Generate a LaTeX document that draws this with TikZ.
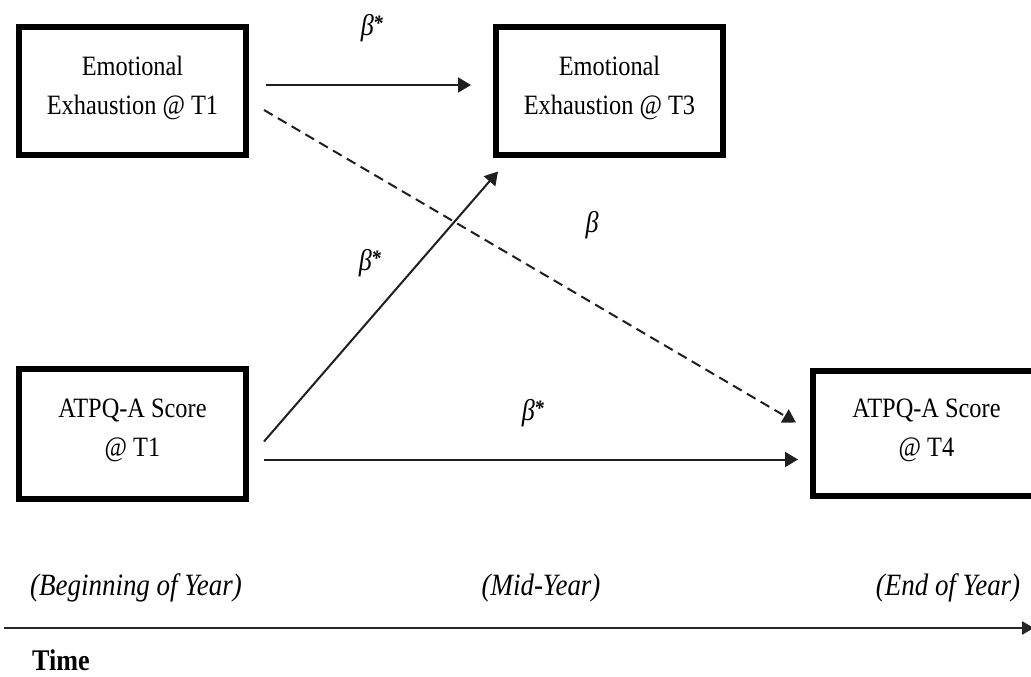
\documentclass[tikz,border=0pt]{standalone}
\usepackage{fontspec}
\newfontfamily\diagfont{Liberation Serif}[FakeStretch=0.87]
\usetikzlibrary{positioning,arrows.meta}
\newcommand{\starred}{β\kern-0.5pt\raisebox{5pt}{\bfseries\fontsize{22}{22}\selectfont *}}

\begin{document}
\begin{tikzpicture}[
    x=1pt, y=-1pt,
    node distance=208pt and 244pt,
    block/.style={draw, line width=6pt, minimum width=227pt, minimum height=127pt, align=center, inner sep=0pt,
        font=\diagfont\fontsize{28}{39}\selectfont},
    arrow/.style={-{Triangle[length=13pt,width=15pt]}, line width=2pt, draw=black!88},
    dasharrow/.style={arrow, dash pattern=on 10pt off 6pt},
    coef/.style={font=\diagfont\itshape\fontsize{30}{30}\selectfont},
    period/.style={font=\diagfont\itshape\fontsize{31}{31}\selectfont}
]
\useasboundingbox (0,0) rectangle (1031,677);

\node[block] (ee1) at (132.5,91) {Emotional\\Exhaustion @ T1\\[-28pt]};
\node[block, right=of ee1] (ee3) {Emotional\\Exhaustion @ T3\\[-28pt]};
\node[block, below=of ee1, minimum height=130pt] (at1) {ATPQ-A Score\\@ T1\\[-28pt]};
\node[block, right=561pt of at1, minimum height=125pt] (at4) {ATPQ-A Score\\@ T4\\[-28pt]};

\draw[arrow] ([xshift=17pt,yshift=6pt]ee1.east) -- ([xshift=-22pt,yshift=6pt]ee3.west);
\draw[dasharrow] ([xshift=15pt,yshift=-19pt]ee1.east) -- ([xshift=-14pt,yshift=11pt]at4.west);
\draw[arrow] ([xshift=15pt,yshift=-8pt]at1.east) -- ([xshift=5pt,yshift=-14pt]ee3.south west);
\draw[arrow] ([xshift=15pt,yshift=-26pt]at1.east) -- ([xshift=-12pt,yshift=-26pt]at4.west);

\node[coef] (b1) at (372,28) {\starred};
\node[coef] (b2) at (370,263) {\starred};
\node[coef] (b3) at (592,225) {β};
\node[coef] (b4) at (533,413) {\starred};

\node[period] (beg) at (136,588) {(Beginning of Year)};
\node[period] (mid) at (541,588) {(Mid-Year)};
\node[period] (end) at (948,588) {(End of Year)};

\coordinate (tstart) at (4,628);
\coordinate (tend) at (1034,628);
\draw[-{Triangle[length=12pt,width=13pt]}, line width=2.5pt, draw=black!85] (tstart) -- (tend);
\node[font=\diagfont\bfseries\fontsize{30}{30}\selectfont] (time) at (61,660) {Time};
\end{tikzpicture}
\end{document}
